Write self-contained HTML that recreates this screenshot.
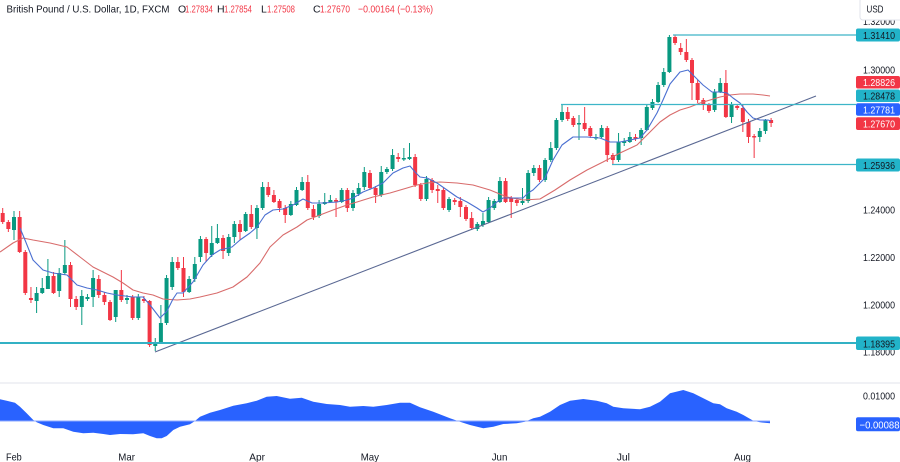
<!DOCTYPE html>
<html><head><meta charset="utf-8"><style>
html,body{margin:0;padding:0;background:#fff;}
svg{display:block}
</style></head><body>
<svg width="900" height="462" viewBox="0 0 900 462" xmlns="http://www.w3.org/2000/svg" font-family="'Liberation Sans', Arial, sans-serif">
<rect width="900" height="462" fill="#ffffff"/>

<!-- candles: wicks -->
<path fill="none" stroke="#089981" stroke-width="1" d="M14 211V240 M36.6 287V313 M42.25 278V294 M47.9 259V289 M59.2 268V297 M64.85 240V275 M81.8 290V325 M87.45 294V301 M93.1 270V307 M115.7 290V322 M127 295V304 M138.3 294V320 M155.25 338V351 M160.9 305V343 M166.55 275V325 M172.2 257V290 M189.15 276V293 M194.8 257V282 M200.45 236V262 M211.75 226V257 M217.4 224V244 M228.7 234V256 M234.35 221V243 M245.65 212V232 M256.95 205V239 M262.6 182V210 M290.85 201V216 M296.5 187V206 M302.15 177V191 M319.1 200V218 M324.75 193V205 M330.4 195V203 M341.7 188V203 M353 190V211 M358.65 183V196 M364.3 167V190 M381.25 166V197 M386.9 167V174 M392.55 149V171 M403.85 148V161 M409.5 143V160 M426.45 176V201 M449.05 197V212 M477.3 222V231 M482.95 213V227 M488.6 197V223 M494.25 199V210 M499.9 177V203 M522.5 188V205 M528.15 170V203 M533.8 165V176 M545.1 158V182 M550.75 142V162 M556.4 118V150 M562.05 105V122 M579 115V140 M595.95 134V140 M601.6 125V138 M618.55 133V162 M624.2 138V146 M629.85 132V143 M641.15 128V145 M646.8 104V131 M652.45 99V110 M658.1 82V103 M663.75 68V87 M669.4 35V73 M714.6 89V112 M720.25 78V93 M731.55 102V123 M759.8 128V142 M765.45 119V134"/>
<path fill="none" stroke="#f23645" stroke-width="1" d="M2.7 208V224 M8.35 220V232 M19.65 211V253 M25.3 250V295 M30.95 287V303 M53.55 272V294 M70.5 262V307 M76.15 296V310 M98.75 275V298 M104.4 292V305 M110.05 300V321 M121.35 270V302 M132.65 295V320 M143.95 296V303 M149.6 300V347 M177.85 257V270 M183.5 257V297 M206.1 237V262 M223.05 235V259 M240 220V240 M251.3 205V229 M268.25 182V197 M273.9 190V203 M279.55 199V212 M285.2 205V223 M307.8 175V210 M313.45 205V220 M336.05 198V217 M347.35 188V212 M369.95 170V190 M375.6 186V203 M398.2 153V162 M415.15 154V187 M420.8 183V201 M432.1 178V193 M437.75 185V203 M443.4 188V210 M454.7 198V205 M460.35 197V217 M466 205V221 M471.65 212V230 M505.55 178V203 M511.2 196V218 M516.85 198V206 M539.45 165V182 M567.7 107V121 M573.35 116V127 M584.65 107V131 M590.3 126V138 M607.25 126V162 M612.9 153V165 M635.5 134V141 M675.05 35V45 M680.7 43V55 M686.35 39V62 M692 58V100 M697.65 80V103 M703.3 98V110 M708.95 103V113 M725.9 70V118 M737.2 104V110 M742.85 105V132 M748.5 119V143 M754.15 134V158 M771.1 118V127"/>

<!-- candles: bodies -->
<path fill="#089981" d="M12 217h4v13h-4z M34.6 293h4v8h-4z M40.25 288h4v5h-4z M45.9 276h4v13h-4z M57.2 273h4v18h-4z M62.85 265h4v8h-4z M79.8 296h4v11h-4z M85.45 297h4v2h-4z M91.1 278h4v19h-4z M113.7 290h4v27h-4z M125 298h4v2h-4z M136.3 297h4v21h-4z M153.25 342h4v4h-4z M158.9 323h4v19h-4z M164.55 278h4v45h-4z M170.2 262h4v25h-4z M187.15 279h4v13h-4z M192.8 264h4v15h-4z M198.45 239h4v18h-4z M209.75 243h4v12h-4z M215.4 238h4v5h-4z M226.7 237h4v16h-4z M232.35 224h4v13h-4z M243.65 214h4v17h-4z M254.95 208h4v20h-4z M260.6 187h4v21h-4z M288.85 204h4v11h-4z M294.5 190h4v15h-4z M300.15 182h4v8h-4z M317.1 204h4v12h-4z M322.75 202h4v2h-4z M328.4 200h4v2h-4z M339.7 190h4v12h-4z M351 193h4v15h-4z M356.65 188h4v6h-4z M362.3 172h4v15h-4z M379.25 172h4v23h-4z M384.9 169h4v3h-4z M390.55 155h4v14h-4z M401.85 158h4v1.5h-4z M407.5 157h4v2h-4z M424.45 179h4v20h-4z M447.05 199h4v11h-4z M475.3 224h4v5h-4z M480.95 221h4v4h-4z M486.6 200h4v22h-4z M492.25 201h4v7h-4z M497.9 181h4v21h-4z M520.5 201h4v2h-4z M526.15 173h4v28h-4z M531.8 168h4v5h-4z M543.1 160h4v20h-4z M548.75 148h4v12h-4z M554.4 120h4v28h-4z M560.05 112h4v8h-4z M577 123h4v1.5h-4z M593.95 137h4v1.5h-4z M599.6 128h4v9h-4z M616.55 142h4v18h-4z M622.2 141h4v2h-4z M627.85 137h4v5h-4z M639.15 130h4v8h-4z M644.8 107h4v23h-4z M650.45 102h4v6h-4z M656.1 85h4v17h-4z M661.75 72h4v13h-4z M667.4 37h4v35h-4z M712.6 92h4v18h-4z M718.25 83h4v9h-4z M729.55 104h4v13h-4z M757.8 131h4v6h-4z M763.45 120h4v11h-4z"/>
<path fill="#f23645" d="M0.7 213h4v9h-4z M6.35 222h4v7h-4z M17.65 217h4v35h-4z M23.3 252h4v41h-4z M28.95 298h4v2h-4z M51.55 276h4v17h-4z M68.5 265h4v34h-4z M74.15 299h4v8h-4z M96.75 279h4v16h-4z M102.4 295h4v7h-4z M108.05 302h4v18h-4z M119.35 290h4v10h-4z M130.65 297h4v21h-4z M141.95 299h4v2h-4z M147.6 301h4v44h-4z M175.85 262h4v6h-4z M181.5 268h4v24h-4z M204.1 239h4v14h-4z M221.05 238h4v13h-4z M238 224h4v8h-4z M249.3 214h4v13h-4z M266.25 187h4v8h-4z M271.9 195h4v7h-4z M277.55 201h4v7h-4z M283.2 208h4v7h-4z M305.8 182h4v26h-4z M311.45 209h4v8h-4z M334.05 200h4v1.5h-4z M345.35 190h4v18h-4z M367.95 173h4v15h-4z M373.6 188h4v7h-4z M396.2 157h4v2h-4z M413.15 157h4v28h-4z M418.8 185h4v14h-4z M430.1 180h4v10h-4z M435.75 189h4v2h-4z M441.4 190h4v18h-4z M452.7 200h4v2h-4z M458.35 201h4v6h-4z M464 207h4v12h-4z M469.65 218h4v10h-4z M503.55 181h4v21h-4z M509.2 198h4v4h-4z M514.85 200h4v3h-4z M537.45 168h4v12h-4z M565.7 112h4v7h-4z M571.35 118h4v7h-4z M582.65 123h4v6h-4z M588.3 128h4v8h-4z M605.25 128h4v27h-4z M610.9 155h4v5h-4z M633.5 137h4v2h-4z M673.05 37h4v6h-4z M678.7 48h4v4h-4z M684.35 52h4v8h-4z M690 60h4v23h-4z M695.65 83h4v17h-4z M701.3 100h4v5h-4z M706.95 105h4v6h-4z M723.9 83h4v34h-4z M735.2 106h4v2h-4z M740.85 108h4v14h-4z M746.5 122h4v15h-4z M752.15 136h4v1.5h-4z M769.1 120h4v3h-4z"/>

<!-- moving averages -->
<polyline fill="none" stroke="#d86b6b" stroke-width="1.1" stroke-linejoin="round" points="0,252 13,243 23,238 33,240 50,243 67,247 80,257 93,267 103,272 113,277 123,283 133,290 143,293 153,295 163,299 177,300 190,299 200,297 217,293 233,287 247,277 260,263 270,247 283,235 297,227 307,220 320,215 333,210 347,205 357,202 373,197 390,193 407,188 417,185 427,183 440,182 457,183 473,185 490,190 507,197 523,200 540,199 555,190 570,180 587,170 603,162 620,153 637,145 650,132 660,122 670,115 680,110 690,107 700,103 710,100 720,97 730,95 740,94 753,94 763,95 770,96"/>
<polyline fill="none" stroke="#4a6fd1" stroke-width="1.1" stroke-linejoin="round" points="20,228 25,240 33,260 43,270 53,273 67,275 77,285 87,288 97,290 107,293 117,295 133,297 143,297 150,305 160,318 167,311 173,299 177,293 183,293 193,282 203,265 212,255 220,250 232,247 240,240 250,233 257,227 265,215 273,210 283,209 293,205 303,199 312,203 323,203 337,202 347,200 353,198 363,192 373,188 383,183 393,173 403,168 410,166 415,172 420,177 427,178 437,183 447,190 457,197 467,202 477,208 483,212 490,208 497,202 503,198 513,198 523,198 528,193 533,190 545,178 553,160 562,145 573,137 587,137 600,138 610,142 620,142 630,140 640,138 647,130 657,113 663,100 670,84 680,72 688,70 695,77 703,85 712,92 720,92 727,93 733,98 740,103 747,112 753,118 760,120 768,120 771,121"/>

<!-- trendline -->
<line x1="155" y1="352" x2="816" y2="96" stroke="#5a6893" stroke-width="1.1"/>

<!-- horizontal levels -->
<line x1="673" y1="35" x2="856" y2="35" stroke="#3db5c8" stroke-width="1.3"/>
<line x1="561" y1="104.5" x2="856" y2="104.5" stroke="#3db5c8" stroke-width="1.3"/>
<line x1="612" y1="164.5" x2="856" y2="164.5" stroke="#3db5c8" stroke-width="1.3"/>
<line x1="0" y1="343" x2="856" y2="343" stroke="#32b1c4" stroke-width="2"/>

<!-- pane separator -->
<line x1="0" y1="383" x2="900" y2="383" stroke="#e0e3eb" stroke-width="1"/>

<!-- oscillator -->
<polygon fill="#2962ff" points="0,421 0,399.3 6.7,400.7 15,402.7 20,406.7 26.7,413.3 33.3,420 36.7,422.3 43.3,425 53.3,428.3 63.3,428.3 73.3,431.7 83.3,433.3 93.3,432.7 103.3,434 110,435 120,434 133,434.3 143.3,433.3 150,436 156.7,438.3 161.7,438.3 166.7,436 173.3,430 180,426.7 190,424.3 195,421 200,416.7 210,412.7 220,410 233.3,405.7 246.7,403.3 256.7,400.7 266.7,396.7 276.7,396 290,398.7 301.7,397.7 313.3,401.7 326.7,404 340,405 350,406.7 363.3,406 373.3,406.7 386.7,405 400,402.7 410,402.7 420,407.3 433.3,411.7 450,418.3 460,421.7 470,425 483.3,428.3 493.3,426.7 503.3,424 516.7,423.3 525,421.7 533.3,418.3 540,416.7 550,411.7 560,405 570,400.7 583.3,399 596.7,400.7 606.7,403.3 613.3,406.7 623.3,408.3 640,409.3 650,406.7 660,401.7 670,393.3 683.3,390 693.3,393.3 703.3,398.3 713.3,403.3 720,404.3 726.7,408.3 736.7,411.7 743.3,415 753.3,420.7 760,422.3 770,423.3 770,421"/>
<line x1="0" y1="421" x2="770" y2="421" stroke="#8eaaff" stroke-width="1"/>

<!-- header -->
<g font-size="10.5" fill="#131722">
<text x="6.5" y="12.5" textLength="163" lengthAdjust="spacingAndGlyphs">British Pound / U.S. Dollar, 1D, FXCM</text>
<text x="178" y="12.5">O</text>
<text x="185" y="12.5" fill="#f23645" textLength="28" lengthAdjust="spacingAndGlyphs">1.27834</text>
<text x="217" y="12.5">H</text>
<text x="224" y="12.5" fill="#f23645" textLength="28" lengthAdjust="spacingAndGlyphs">1.27854</text>
<text x="261" y="12.5">L</text>
<text x="267" y="12.5" fill="#f23645" textLength="28" lengthAdjust="spacingAndGlyphs">1.27508</text>
<text x="313" y="12.5">C</text>
<text x="320" y="12.5" fill="#f23645" textLength="30" lengthAdjust="spacingAndGlyphs">1.27670</text>
<text x="358" y="12.5" fill="#f23645" textLength="75" lengthAdjust="spacingAndGlyphs">−0.00164 (−0.13%)</text>
</g>

<!-- price axis ticks -->
<g font-size="10.5" fill="#131722">
<text x="863" y="25" textLength="32" lengthAdjust="spacingAndGlyphs">1.32000</text>
<text x="863" y="73.3" textLength="32" lengthAdjust="spacingAndGlyphs">1.30000</text>
<text x="863" y="213.5" textLength="32" lengthAdjust="spacingAndGlyphs">1.24000</text>
<text x="863" y="261" textLength="32" lengthAdjust="spacingAndGlyphs">1.22000</text>
<text x="863" y="308.5" textLength="32" lengthAdjust="spacingAndGlyphs">1.20000</text>
<text x="863" y="355.5" textLength="32" lengthAdjust="spacingAndGlyphs">1.18000</text>
<text x="863" y="399.5" textLength="32" lengthAdjust="spacingAndGlyphs">0.01000</text>
</g>

<!-- USD box -->
<rect x="860" y="-2" width="45" height="22" rx="3" fill="#ffffff" stroke="#e0e3eb" stroke-width="1"/>
<text x="866.5" y="12.7" font-size="10.5" fill="#131722" textLength="17" lengthAdjust="spacingAndGlyphs">USD</text>

<!-- price labels -->
<g font-size="10.5">
<rect x="856" y="28.5" width="44" height="13" rx="2" fill="#22b3c9"/>
<text x="863" y="39" fill="#131722" textLength="32" lengthAdjust="spacingAndGlyphs">1.31410</text>
<rect x="856" y="76" width="44" height="12.5" rx="2" fill="#f23645"/>
<text x="863" y="86.2" fill="#ffffff" textLength="32" lengthAdjust="spacingAndGlyphs">1.28826</text>
<rect x="856" y="89.5" width="44" height="12.5" rx="2" fill="#22b3c9"/>
<text x="863" y="99.7" fill="#131722" textLength="32" lengthAdjust="spacingAndGlyphs">1.28478</text>
<rect x="856" y="103.2" width="44" height="12.5" rx="2" fill="#2962ff"/>
<text x="863" y="113.4" fill="#ffffff" textLength="32" lengthAdjust="spacingAndGlyphs">1.27781</text>
<rect x="856" y="117.2" width="44" height="12.8" rx="2" fill="#f23645"/>
<text x="863" y="127.6" fill="#ffffff" textLength="32" lengthAdjust="spacingAndGlyphs">1.27670</text>
<rect x="856" y="158.5" width="44" height="13" rx="2" fill="#22b3c9"/>
<text x="863" y="169" fill="#131722" textLength="32" lengthAdjust="spacingAndGlyphs">1.25936</text>
<rect x="856" y="336.5" width="44" height="13.5" rx="2" fill="#22b3c9"/>
<text x="863" y="347.3" fill="#131722" textLength="32" lengthAdjust="spacingAndGlyphs">1.18395</text>
<rect x="856" y="417.3" width="44" height="14" rx="2" fill="#2962ff"/>
<text x="859.5" y="428.3" fill="#ffffff" textLength="40" lengthAdjust="spacingAndGlyphs">−0.00088</text>
</g>

<!-- time axis -->
<g font-size="10.5" fill="#131722">
<text x="6" y="460.5" textLength="15.7" lengthAdjust="spacingAndGlyphs">Feb</text>
<text x="118.3" y="460.5" textLength="16.7" lengthAdjust="spacingAndGlyphs">Mar</text>
<text x="249.3" y="460.5" textLength="15.7" lengthAdjust="spacingAndGlyphs">Apr</text>
<text x="360.7" y="460.5" textLength="18.3" lengthAdjust="spacingAndGlyphs">May</text>
<text x="491.7" y="460.5" textLength="15.7" lengthAdjust="spacingAndGlyphs">Jun</text>
<text x="616.7" y="460.5" textLength="13.3" lengthAdjust="spacingAndGlyphs">Jul</text>
<text x="734" y="460.5" textLength="17" lengthAdjust="spacingAndGlyphs">Aug</text>
</g>
</svg>
</body></html>
